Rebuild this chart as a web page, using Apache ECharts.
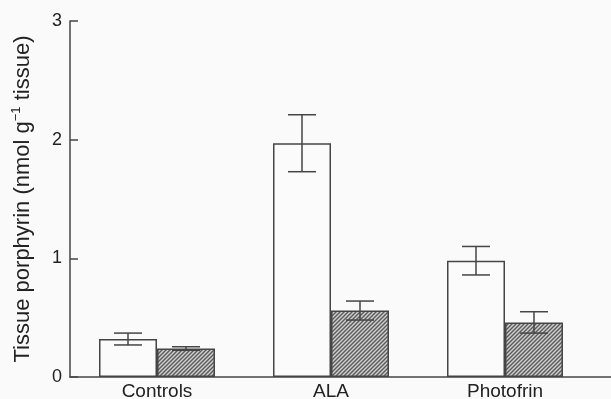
<!DOCTYPE html>
<html>
<head>
<meta charset="utf-8">
<script src="https://cdn.jsdelivr.net/npm/echarts@6/dist/echarts.min.js"></script>
<style>
  html, body { margin: 0; padding: 0; background: #fafafa; }
  #chart { width: 611px; height: 399px; }
</style>
</head>
<body>
<div id="chart"></div>
<script>
// groups on the x axis (last one left empty so the axis line runs off the page)
const categories = ['Controls', 'ALA', 'Photofrin', '']
const yTicks = [0, 1, 2, 3]

// open bars and their error (±)
const openValues = [0.32, 1.97, 0.98]
const openErr = [0.05, 0.24, 0.12]
// hatched bars and their error (±)
const hatchValues = [0.24, 0.56, 0.46]
const hatchErr = [0.015, 0.08, 0.09]

const ink = '#454545'

// diagonal hatch pattern
function makeHatch () {
  const c = document.createElement('canvas')
  c.width = 4
  c.height = 4
  const ctx = c.getContext('2d')
  ctx.fillStyle = '#cfcfcf'
  ctx.fillRect(0, 0, 4, 4)
  ctx.strokeStyle = '#5a5a5a'
  ctx.lineWidth = 1.4
  ctx.beginPath()
  ctx.moveTo(-1, 5); ctx.lineTo(5, -1)
  ctx.moveTo(-3, 3); ctx.lineTo(3, -3)
  ctx.moveTo(1, 7); ctx.lineTo(7, 1)
  ctx.stroke()
  return c
}

const barW = 58
const capW = 28

function errData (vals, errs) {
  return vals.map((v, i) => [i, v - errs[i], v + errs[i]])
}

function errSeries (vals, errs, shift) {
  return {
    type: 'custom',
    z: 5,
    data: errData(vals, errs),
    renderItem: function (params, api) {
      const lo = api.coord([api.value(0), api.value(1)])
      const hi = api.coord([api.value(0), api.value(2)])
      const x = lo[0] + shift
      const style = { stroke: ink, lineWidth: 1.5, fill: null }
      return {
        type: 'group',
        children: [
          { type: 'line', shape: { x1: x, y1: lo[1], x2: x, y2: hi[1] }, style: style },
          { type: 'line', shape: { x1: x - capW / 2, y1: lo[1], x2: x + capW / 2, y2: lo[1] }, style: style },
          { type: 'line', shape: { x1: x - capW / 2, y1: hi[1], x2: x + capW / 2, y2: hi[1] }, style: style }
        ]
      }
    }
  }
}

const chart = echarts.init(document.getElementById('chart'))
chart.setOption({
  backgroundColor: '#fafafa',
  animation: false,
  grid: { left: 70, top: 21, height: 356, width: 696, outerBoundsMode: 'none', containLabel: false },
  xAxis: {
    type: 'category',
    data: categories,
    axisLine: { lineStyle: { color: ink, width: 1.5 } },
    axisTick: { show: false },
    axisLabel: {
      color: '#222',
      fontFamily: 'Liberation Sans',
      fontSize: 19,
      margin: 5
    }
  },
  yAxis: {
    type: 'value',
    min: yTicks[0],
    max: yTicks[yTicks.length - 1],
    interval: 1,
    name: '{a|Tissue porphyrin (nmol g}{s|−1}{a| tissue)}',
    nameLocation: 'middle',
    nameGap: 35,
    nameTextStyle: {
      rich: {
        a: { fontFamily: 'Liberation Sans', fontSize: 22, color: '#222' },
        s: { fontFamily: 'Liberation Sans', fontSize: 13, color: '#222', verticalAlign: 'top', padding: [0, 0, 12, 0] }
      }
    },
    splitLine: { show: false },
    axisLine: { show: true, lineStyle: { color: ink, width: 1.5 } },
    axisTick: { show: true, inside: true, length: 8, lineStyle: { color: ink, width: 1.5 } },
    axisLabel: {
      color: '#222',
      fontFamily: 'Liberation Sans',
      fontSize: 18,
      margin: 8
    }
  },
  series: [
    {
      type: 'bar',
      data: openValues,
      barWidth: barW,
      barGap: '0%',
      itemStyle: { color: '#fbfbfb', borderColor: ink, borderWidth: 1.5 }
    },
    {
      type: 'bar',
      data: hatchValues,
      barWidth: barW,
      barGap: '0%',
      itemStyle: {
        color: { image: makeHatch(), repeat: 'repeat' },
        borderColor: ink,
        borderWidth: 1.5
      }
    },
    errSeries(openValues, openErr, -barW / 2),
    errSeries(hatchValues, hatchErr, barW / 2)
  ]
})
</script>
</body>
</html>
